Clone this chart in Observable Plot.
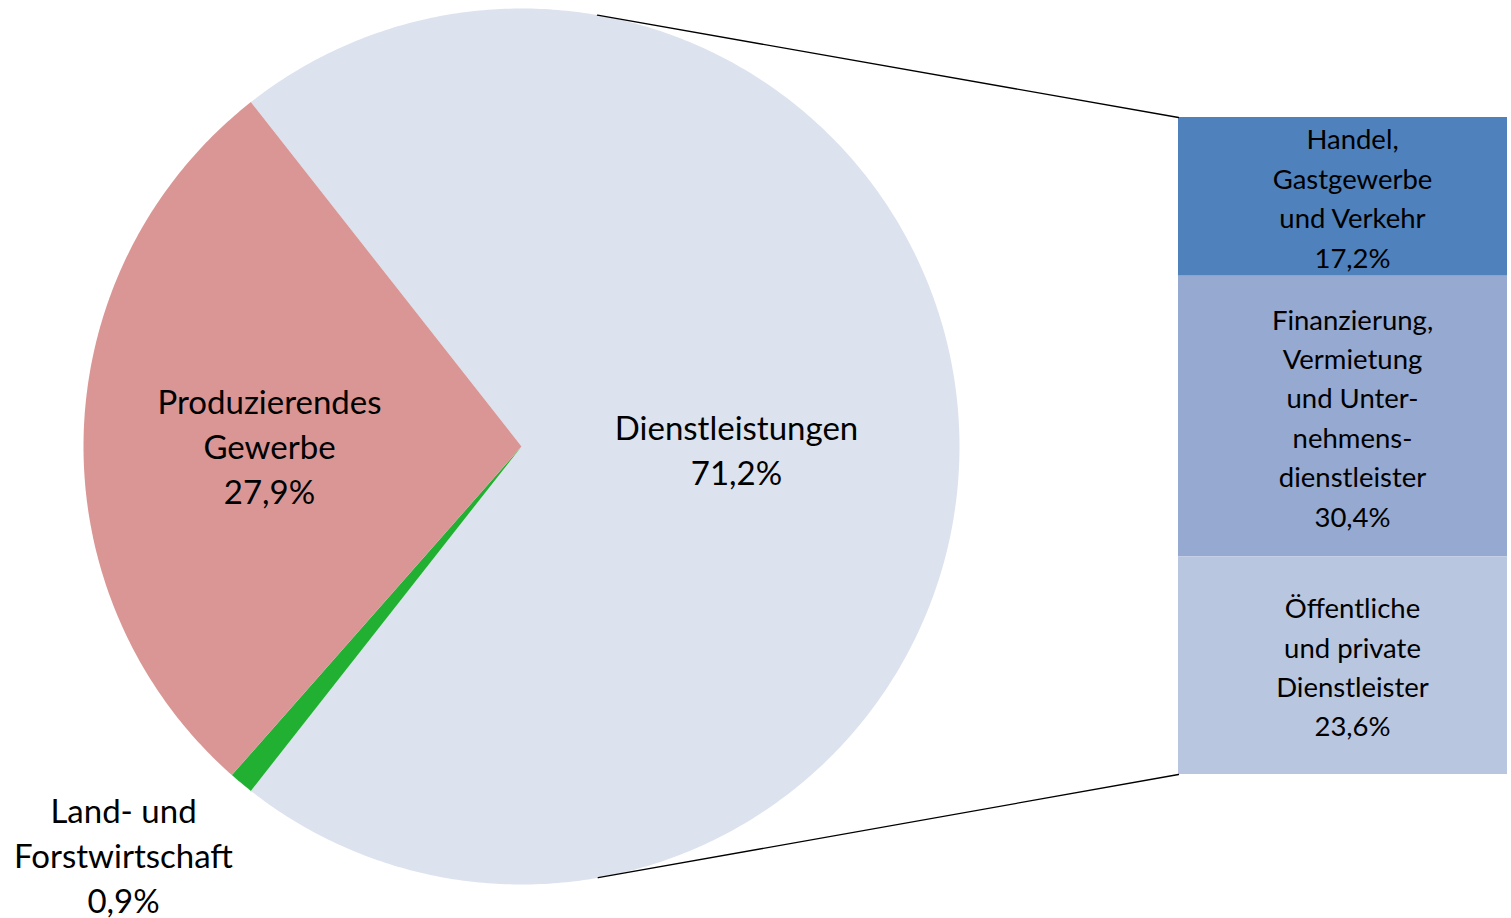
<!DOCTYPE html>
<html><head><meta charset="utf-8">
<script src="https://cdn.jsdelivr.net/npm/d3@7"></script>
<script src="https://cdn.jsdelivr.net/npm/@observablehq/plot@0.6"></script>
<style>body{margin:0;background:#fff}</style>
</head><body><div id="chart"></div>
<script>
// Data
const pieNames = ["Dienstleistungen", "Land- und Forstwirtschaft", "Produzierendes Gewerbe"];
const pieValues = [71.2, 0.9, 27.9];
const pieLabels = ["Dienstleistungen\n71,2%", "Land- und\nForstwirtschaft\n0,9%", "Produzierendes\nGewerbe\n27,9%"];
const pieColors = ["#dce2ee", "#22b033", "#d99694"];

const barNames = ["Handel, Gastgewerbe und Verkehr", "Finanzierung, Vermietung und Unternehmensdienstleister", "Öffentliche und private Dienstleister"];
const barValues = [17.2, 30.4, 23.6];
const barLabels = ["Handel,\nGastgewerbe\nund Verkehr\n17,2%", "Finanzierung,\nVermietung\nund Unter-\nnehmens-\ndienstleister\n30,4%", "Öffentliche\nund private\nDienstleister\n23,6%"];
const barColors = ["#4f81bd", "#95a9d1", "#b9c6e0"];

// Layout
const W = 1511, H = 918;
const cx = 521, cy = 446, r = 438;
const barX1 = 1178, barX2 = 1507, barTop = 117, barH = 657;

// Pie geometry (clock angles, 0 = up, clockwise)
const share0 = pieValues[0] / d3.sum(pieValues);
const start = Math.PI / 2 - share0 * Math.PI;
const arcs = d3.pie().sort(null).value(d => d).startAngle(start).endAngle(start + 2 * Math.PI)(pieValues);
const pt = a => ({x: cx + r * Math.sin(a), y: cy - r * Math.cos(a)});
const slicePolys = arcs.map((a, i) => {
  const n = Math.max(2, Math.ceil((a.endAngle - a.startAngle) / 0.01));
  const pts = [{x: cx, y: cy}];
  for (let k = 0; k <= n; k++) pts.push(pt(a.startAngle + (a.endAngle - a.startAngle) * k / n));
  pts.push({x: cx, y: cy});
  return pts.map(p => ({...p, name: pieNames[i]}));
});

// Label positions for pie slices
const labelPos = [
  {x: 736, y: 452},
  {x: 123, y: 857},
  {x: 269, y: 448}
];
const pieText = pieLabels.map((t, i) => ({text: t, ...labelPos[i]}));

// Bar segments
const yb = d3.scaleLinear().domain([0, d3.sum(barValues)]).range([barTop, barTop + barH]);
let acc = 0;
const segs = barValues.map((v, i) => {
  const s = {name: barNames[i], label: barLabels[i], y1: yb(acc), y2: yb(acc + v), fill: barColors[i]};
  acc += v;
  return s;
});

// Tangent connector lines from bar corners to circle
function tangent(P, sign) {
  const dx = P.x - cx, dy = P.y - cy;
  const d = Math.hypot(dx, dy);
  const base = Math.atan2(dx, -dy);
  const a = base + sign * Math.acos(r / d);
  return pt(a);
}
const topP = {x: barX1, y: barTop}, botP = {x: barX1, y: barTop + barH};
const connectors = [
  [tangent(topP, -1), topP].map(p => ({...p, k: "top"})),
  [tangent(botP, 1), botP].map(p => ({...p, k: "bot"}))
].flat();

const font = "Lato, 'Noto Sans', sans-serif";
const marks = [
  ...slicePolys.map((poly, i) => Plot.line(poly, {x: "x", y: "y", fill: pieColors[i], stroke: "none", curve: "linear"})),
  Plot.rect(segs, {x1: barX1, x2: barX2, y1: "y1", y2: "y2", fill: "fill"}),
  Plot.line(connectors, {x: "x", y: "y", z: "k", stroke: "#000", strokeWidth: 1.3}),
  Plot.text(pieText, {x: "x", y: "y", text: "text", fontSize: 33, lineHeight: 45 / 33, lineAnchor: "middle", dy: -4, fill: "#000", fontFamily: font}),
  Plot.text(segs, {x: 1352, y: d => (d.y1 + d.y2) / 2, text: "label", fontSize: 27.5, lineHeight: 39.4 / 27.5, lineAnchor: "middle", dy: -1, fill: "#000", fontFamily: font, letterSpacing: "2.4px"})
];

const chart = Plot.plot({
  width: W, height: H,
  margin: 0,
  x: {type: "linear", domain: [0, W], range: [0, W], axis: null},
  y: {type: "linear", domain: [0, H], range: [0, H], axis: null},
  color: {type: "identity"},
  style: {background: "#fff", fontFamily: font},
  marks
});
document.getElementById("chart").appendChild(chart);
</script>
</body></html>
